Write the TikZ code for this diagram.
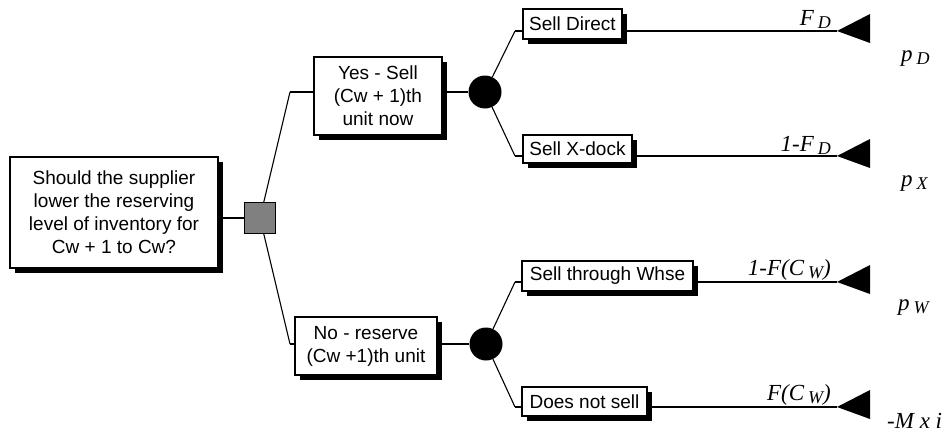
\documentclass[tikz,border=0pt]{standalone}
\usepackage{fontspec}
\setmainfont{Liberation Sans}
\newfontfamily\tms{Liberation Serif}
\usetikzlibrary{shadows}
% lowered, slightly smaller italic index
\newcommand\lowidx[1]{\hspace{4pt}\raisebox{-3pt}{\fontsize{18}{20}\selectfont #1}}

\begin{document}
\begin{tikzpicture}[x=1pt,y=-1pt,
  box/.style={draw, line width=1.1pt, fill=white, inner sep=0pt, align=center,
    font=\fontsize{19}{23}\selectfont,
    drop shadow={shadow xshift=5pt,shadow yshift=-5pt,fill=black,opacity=1}},
  chance/.style={circle, fill=black, minimum size=33pt, inner sep=0pt},
  decision/.style={draw, line width=1pt, fill=black!50, minimum size=31pt, inner sep=0pt},
  link/.style={line width=1.1pt},
  endtip/.style={fill=black},
  payoff/.style={font=\tms\itshape\fontsize{23}{25}\selectfont, inner sep=0pt}]

\useasboundingbox (0,0) rectangle (946,434);

% root question and decision square
\node[box, minimum width=208pt, minimum height=111pt] (q) at (114,212.5)
  {Should the supplier\\lower the reserving\\level of inventory for\\Cw + 1 to Cw?};
\coordinate (hy) at (290,92);
\coordinate (hn) at (290,344);
\draw[link] (260,218) -- (hy);
\draw[link] (260,218) -- (hn);
\node[decision] (d) at (260,218) {};
\draw[link] (q.east |- d) -- (d);

% the two alternatives
\node[box, minimum width=128pt, minimum height=78pt] (yes) at (378,96)
  {Yes - Sell\\(Cw + 1)th\\unit now};
\node[box, minimum width=142pt, minimum height=58pt] (no) at (366,346)
  {No - reserve\\(Cw +1)th unit};
\draw[link] (hy) -- (yes.west |- hy);
\draw[link] (hn) -- (no.west |- hn);

% chance nodes
\node[chance] (cy) at (485,92) {};
\node[chance] (cn) at (486,344) {};
\draw[link] (yes.east |- cy) -- (cy);
\draw[link] (no.east |- cn) -- (cn);

% outcome hinges
\coordinate (h1) at (515,31);
\coordinate (h2) at (515,156);
\coordinate (h3) at (515,282);
\coordinate (h4) at (515,407);
\draw[link] (cy) -- (h1);
\draw[link] (cy) -- (h2);
\draw[link] (cn) -- (h3);
\draw[link] (cn) -- (h4);

% outcome boxes
\node[box, minimum width=99pt, minimum height=30pt] (sd) at (572.5,24) {Sell Direct};
\node[box, minimum width=109pt, minimum height=28pt] (sx) at (577.5,149) {Sell X-dock};
\node[box, minimum width=171pt, minimum height=30pt] (sw) at (607.5,276) {Sell through Whse};
\node[box, minimum width=125pt, minimum height=29pt] (ns) at (584.5,401.5) {Does not sell};
\draw[link] (h1) -- (sd.west |- h1);
\draw[link] (h2) -- (sx.west |- h2);
\draw[link] (h3) -- (sw.west |- h3);
\draw[link] (h4) -- (ns.west |- h4);

% terminal triangles
\coordinate (t1) at (837,31);
\coordinate (t2) at (837,156);
\coordinate (t3) at (837,282);
\coordinate (t4) at (837,407);
\draw[link] (sd.east |- t1) -- (t1);
\draw[link] (sx.east |- t2) -- (t2);
\draw[link] (sw.east |- t3) -- (t3);
\draw[link] (ns.east |- t4) -- (t4);
\foreach \t in {t1,t2,t3,t4}
  \fill[endtip] (\t) -- ++(33,-17) -- ++(0,29) -- cycle;

% probabilities on the branches
\node[payoff, anchor=base east] (p1) at (831,25) {F\lowidx{D}};
\node[payoff, anchor=base east] (p2) at (831,151) {1-F\lowidx{D}};
\node[payoff, anchor=base east] (p3) at (831,275) {1-F(C\lowidx{W})};
\node[payoff, anchor=base east] (p4) at (831,400) {F(C\lowidx{W})};

% payoffs
\node[payoff, anchor=base west] (v1) at (901,61) {p\lowidx{D}};
\node[payoff, anchor=base west] (v2) at (901,186) {p\lowidx{X}};
\node[payoff, anchor=base west] (v3) at (898,310) {p\lowidx{W}};
\node[payoff, anchor=base west] (v4) at (887,428) {-M x i};
\end{tikzpicture}
\end{document}
